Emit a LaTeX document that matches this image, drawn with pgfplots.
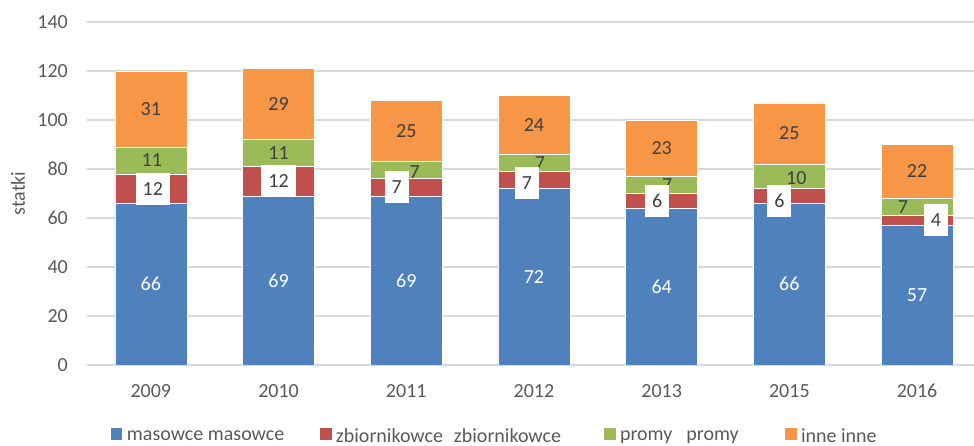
\documentclass[border=0pt]{standalone}
\usepackage{fontspec}
\setmainfont{Carlito}
\usepackage{pgfplots}
\usepackage{pgfplotstable}
\pgfplotsset{compat=1.18}
\definecolor{cBlue}{HTML}{4F81BD}
\definecolor{cRed}{HTML}{C0504D}
\definecolor{cGreen}{HTML}{9BBB59}
\definecolor{cOrange}{HTML}{F79646}
\definecolor{cGrid}{HTML}{D9D9D9}
\definecolor{cTick}{HTML}{595959}
\definecolor{cLab}{HTML}{404040}
\newcommand{\bigfont}{\fontsize{20}{24}\selectfont}

\pgfplotstableread{
x mas zb pr inne zbdx zbdy prdx prdy
0 66 12 11 31 2 0 1 0
1 69 12 11 29 0 0 0 0
2 69 7 7 25 -9.5 0 8.5 -2
3 72 7 7 24 -7 -3 6 0
4 64 6 7 23 -4.5 0 5.5 0
5 66 6 10 25 -10 -5 7 -2
6 57 4 7 22 19 0 -14 0
}\data

\pgfplotsset{
  myleg/.style={legend image code/.code={\fill[##1,draw=none] (0pt,-4pt) rectangle (11.5pt,7.5pt);}},
}

\begin{document}
\begin{tikzpicture}
\path[use as bounding box] (-87pt,-81pt) rectangle (887pt,365pt);
\begin{axis}[
  scale only axis, width=887pt, height=343pt,
  ybar stacked, bar width=72pt,
  xmin=-0.5, xmax=6.446, ymin=0, ymax=140,
  ytick={0,20,...,140},
  xtick={0,...,6}, xticklabels={2009,2010,2011,2012,2013,2015,2016},
  /pgf/number format/assume math mode=true,
  tick style={draw=none},
  axis line style={draw=none},
  ymajorgrids, grid style={cGrid, line width=1.2pt},
  tick label style={font=\bigfont, text=cTick, inner sep=0pt},
  yticklabel style={anchor=east, xshift=-19pt},
  xticklabel style={anchor=north, yshift=-19pt},
  ylabel={statki},
  every axis y label/.style={at={(rel axis cs:0,0.5)}, xshift=-69pt, rotate=90, anchor=center, font=\bigfont, text=cTick},
  point meta=explicit,
  legend columns=4,
  legend style={at={(rel axis cs:0,0)}, anchor=west, xshift=24pt, yshift=-71pt,
    draw=none, fill=none, inner sep=0pt, outer sep=0pt, column sep=0pt,
    font=\bigfont, text=cTick,
    nodes={inner sep=0pt, outer sep=0pt},
    /tikz/every odd column/.append style={column sep=4.5pt}},
  legend cell align=left,
]
\addplot[fill=cBlue, draw=white, line width=0.6pt, myleg,
  nodes near coords,
  every node near coord/.append style={anchor=center, text=white, font=\bigfont}]
  table[x=x, y=mas, meta=mas] {\data};
\addlegendentry{\makebox[193pt][l]{masowce masowce}}
\addplot[fill=cRed, draw=white, line width=0.6pt, myleg,
  nodes near coords,
  visualization depends on={\thisrow{zbdx} \as \dx},
  visualization depends on={\thisrow{zbdy} \as \dy},
  every node near coord/.append style={anchor=center, text=cLab, font=\bigfont,
    fill=white, inner xsep=7pt, minimum height=32pt,
    xshift=\dx pt, yshift=\dy pt}]
  table[x=x, y=zb, meta=zb] {\data};
\addlegendentry{\makebox[268pt][l]{zbiornikowce\hspace{11pt}zbiornikowce}}
\addplot[fill=cGreen, draw=white, line width=0.6pt, myleg,
  nodes near coords,
  visualization depends on={\thisrow{prdx} \as \dx},
  visualization depends on={\thisrow{prdy} \as \dy},
  every node near coord/.append style={anchor=center, text=cLab, font=\bigfont,
    xshift=\dx pt, yshift=\dy pt}]
  table[x=x, y=pr, meta=pr] {\data};
\addlegendentry{\makebox[165pt][l]{promy\hspace{14pt}promy}}
\addplot[fill=cOrange, draw=white, line width=0.6pt, myleg,
  nodes near coords,
  every node near coord/.append style={anchor=center, text=cLab, font=\bigfont}]
  table[x=x, y=inne, meta=inne] {\data};
\addlegendentry{inne inne}
\end{axis}
\end{tikzpicture}
\end{document}
